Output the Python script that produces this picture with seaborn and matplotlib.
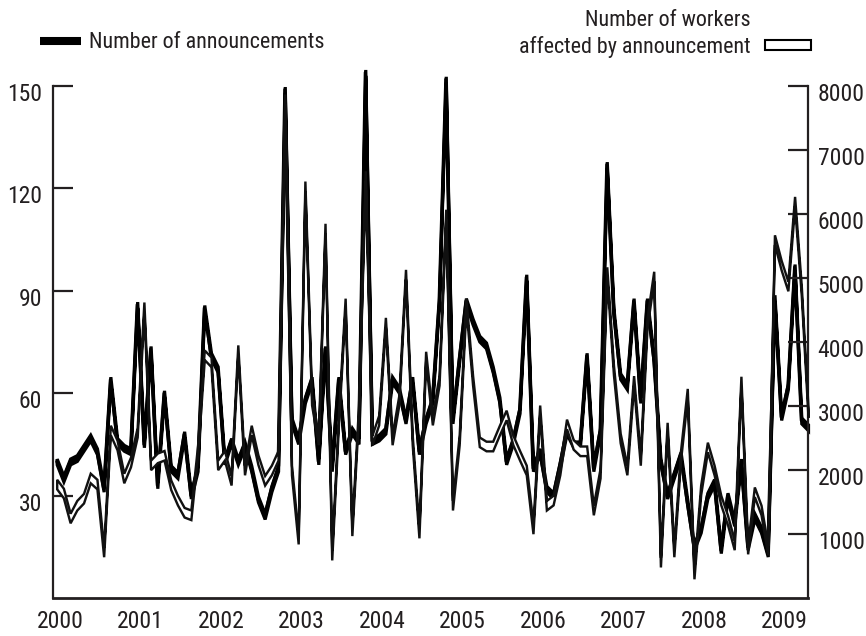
import os
import numpy as np
import pandas as pd
import matplotlib
matplotlib.use("Agg")
import matplotlib.pyplot as plt
import seaborn as sns
from matplotlib import font_manager as fm
from matplotlib.lines import Line2D
from matplotlib.patches import Patch
from matplotlib.transforms import ScaledTranslation

# ---------------- data (monthly, Dec 1999 .. Apr 2009) ----------------
year_labels = [str(y) for y in range(2000, 2010)]
month_index = list(range(-1, 112))

announcements = [
    40, 35, 40, 41, 44, 47, 43, 32, 64, 46, 44, 43, 86,          # -1..11
    45, 73, 33, 60, 38, 36, 48, 30, 38, 85, 71, 67,              # 12..23
    40, 46, 40, 45, 38, 29, 24, 32, 38, 149, 52, 46,             # 24..35
    58, 64, 40, 73, 38, 64, 43, 49, 46, 154, 46, 47,             # 36..47
    49, 64, 61, 52, 64, 43, 52, 58, 87, 152, 52, 70,             # 48..59
    87, 81, 76, 74, 67, 58, 40, 46, 55, 94, 38, 43,              # 60..71
    32, 30, 39, 49, 45, 45, 71, 38, 49, 127, 84, 65,             # 72..83
    62, 87, 58, 87, 70, 40, 30, 36, 42, 28, 15, 20,              # 84..95
    30, 34, 14, 30, 22, 40, 15, 24, 20, 13, 88, 53,              # 96..107
    62, 97, 52, 50,                                              # 108..111
]

workers = [
    1780, 1640, 1250, 1450, 1560, 1875, 1780, 720, 2625, 2390, 1875, 2125, 2590,
    4550, 2080, 2190, 2230, 1770, 1530, 1340, 1300, 2310, 3800, 3690, 2080,
    2230, 1840, 3880, 2000, 2625, 2160, 1840, 2000, 2230, 7800, 2000, 920,
    6440, 3090, 2470, 5780, 670, 2780, 4610, 1050, 2940, 6600, 2470, 2780,
    4310, 2470, 3090, 5060, 2470, 1015, 3780, 2780, 3400, 6000, 1450, 2470,
    4610, 3400, 2440, 2375, 2375, 2625, 2860, 2470, 2230, 2000, 1080, 2940,
    1450, 1530, 2000, 2720, 2400, 2300, 2300, 1375, 1950, 5100, 3560, 2500,
    2000, 3400, 2150, 4300, 5030, 560, 2670, 720, 2230, 3200, 375, 1690,
    2360, 2000, 1530, 1220, 830, 3390, 765, 1660, 1375, 750, 5600, 5200,
    4875, 6200, 4800, 2900,
]

left_ticks = [30, 60, 90, 120, 150]
right_ticks = [1000, 2000, 3000, 4000, 5000, 6000, 7000, 8000]

# ---------------- font ----------------
def pick_font():
    prefs = ["liberationsansnarrow-regular", "robotocondensed-regular",
             "dejavusanscondensed.", "opensans_condensed", "notosans-condensed"]
    files = [f.fname for f in fm.fontManager.ttflist]
    low = {os.path.basename(p).lower(): p for p in files}
    for pref in prefs:
        for b, p in low.items():
            if b.startswith(pref):
                return p
    for b, p in low.items():
        if ("narrow" in b or "condensed" in b) and not any(
                s in b for s in ("bold", "italic", "oblique", "light", "semi", "extra", "black", "thin", "medium")):
            return p
    return None

sns.set_style("white")
_fpath = pick_font()
def make_fp(size):
    if _fpath:
        return fm.FontProperties(fname=_fpath, size=size)
    return fm.FontProperties(family="Liberation Sans", size=size)

fp = make_fp(17)
fp_leg = make_fp(15.8)
INK = "#231f20"

# ---------------- figure ----------------
W, H = 866, 636
fig = plt.figure(figsize=(W / 100, H / 100), dpi=100)
ax = fig.add_axes([53 / W, 1 - 598 / H, (808 - 53) / W, (598 - 86) / H])
ax2 = ax.twinx()

df = pd.DataFrame({"month": np.array(month_index) + 0.5,
                   "ann": announcements, "wrk": workers})

ax.set_xlim(-1.05, 111.5)
ax.set_ylim(0, 150)
ax2.set_ylim(0, 8000)

PT = 72 / 100  # points per pixel


def band(axis, values, half_px, units_per_px, face, edge, lw_px, z):
    """Thick stroke: a band of constant vertical height around the series."""
    v = np.asarray(values, float)
    h = half_px * units_per_px
    pc = axis.fill_between(df["month"], v - h, v + h, facecolor=face,
                           edgecolor=edge, linewidth=lw_px * PT, zorder=z,
                           clip_on=False)
    pc.set_joinstyle("miter")
    return pc


# announcements: solid black band
band(ax, df["ann"], 2.9, 150 / 512, "black", "black", 3.2, 2)
sns.lineplot(data=df, x="month", y="ann", ax=ax, color="black", lw=2.2,
             legend=False, clip_on=False, zorder=2)
# workers: white band with black outline, drawn above
band(ax2, df["wrk"], 4.8, 8000 / 512, "white", "#111111", 2.4, 3)

ax.set_xlabel("")
ax.set_ylabel("")
ax2.set_ylabel("")

# spines
for a in (ax, ax2):
    a.spines["top"].set_visible(False)
ax.spines["right"].set_visible(False)
ax2.spines["left"].set_visible(False)
ax2.spines["bottom"].set_visible(False)
ax.spines["left"].set_linewidth(1.6)
ax.spines["bottom"].set_linewidth(2.0)
ax2.spines["right"].set_linewidth(1.6)
for s in ("left", "bottom"):
    ax.spines[s].set_color(INK)
ax2.spines["right"].set_color(INK)

# ticks
major = [12 * i for i in range(len(year_labels))]
minor = [m for m in range(1, 112) if m % 12 != 0]
ax.set_xticks(major)
ax.set_xticklabels(year_labels)
ax.set_xticks(minor, minor=True)
ax.tick_params(axis="x", which="major", direction="in", length=14.4, width=1.6,
               pad=9, color=INK, top=False)
ax.tick_params(axis="x", which="minor", direction="in", length=9.4, width=1.4,
               color=INK, top=False)
ax.set_yticks(left_ticks)
ax.set_yticklabels([str(v) for v in left_ticks])
ax.tick_params(axis="y", direction="in", length=14.4, width=1.6, pad=8,
               color=INK, left=True, right=False)
ax2.set_yticks(right_ticks)
ax2.set_yticklabels([str(v) for v in right_ticks])
ax2.tick_params(axis="y", direction="in", length=14.4, width=1.6, pad=7,
                color=INK, right=True, left=False)

lift = ScaledTranslation(0, 3 / 100, fig.dpi_scale_trans)
for lab in ax.get_xticklabels() + ax.get_yticklabels() + ax2.get_yticklabels():
    lab.set_fontproperties(fp)
    lab.set_color(INK)
for lab in ax.get_yticklabels() + ax2.get_yticklabels():
    lab.set_verticalalignment("top")
    lab.set_transform(lab.get_transform() + lift)

# legends
h1 = Line2D([], [], color="black", lw=5.8, solid_capstyle="butt")
leg1 = fig.legend(handles=[h1], labels=["Number of announcements"],
                  loc="center left", bbox_to_anchor=(40 / W, 1 - 43 / H),
                  frameon=False, prop=fp_leg, handlelength=1.85,
                  handletextpad=0.4, borderpad=0, borderaxespad=0)
h2 = Patch(facecolor="white", edgecolor="black", linewidth=1.5)
leg2 = fig.legend(handles=[h2], labels=["affected by announcement"],
                  loc="center right", bbox_to_anchor=(811 / W, 1 - 47 / H),
                  frameon=False, prop=fp_leg, handlelength=2.1, handleheight=0.3,
                  handletextpad=0.65, borderpad=0, borderaxespad=0,
                  markerfirst=False)
fig.text(751 / W, 1 - 20 / H, "Number of workers", ha="right", va="center",
         fontproperties=fp_leg, color=INK)
for lg in (leg1, leg2):
    for t in lg.get_texts():
        t.set_color(INK)

fig.savefig("out.png", dpi=100)
